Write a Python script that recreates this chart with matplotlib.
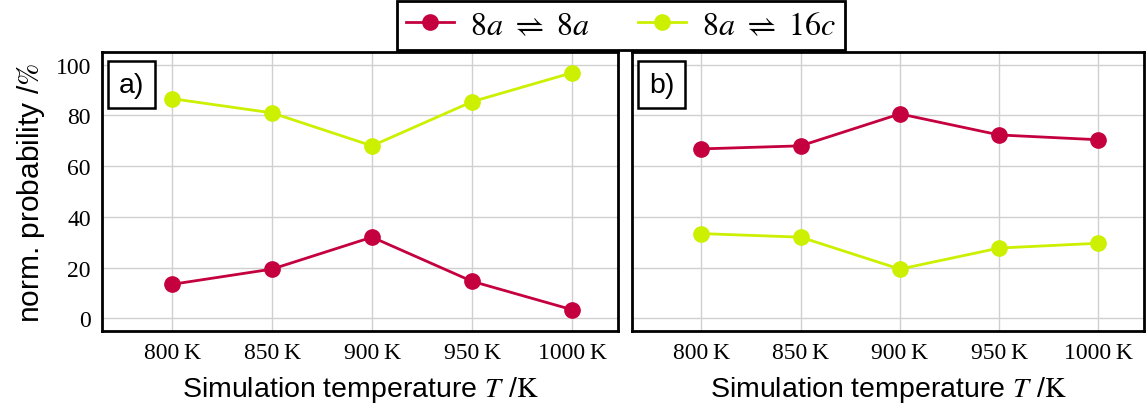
import matplotlib
matplotlib.use("Agg")
import matplotlib.pyplot as plt
from matplotlib.lines import Line2D

# --- DATEN ---
TEMPERATUREN = [800, 850, 900, 950, 1000]
TICK_LABELS = ["800\u2009K", "850\u2009K", "900\u2009K", "950\u2009K", "1000\u2009K"]

# Panel a)
A_8A_8A = [13.4, 19.4, 32.0, 14.6, 3.4]
A_8A_16C = [86.6, 81.0, 68.0, 85.4, 96.8]
# Panel b)
B_8A_8A = [66.8, 68.0, 80.6, 72.3, 70.4]
B_8A_16C = [33.4, 32.0, 19.4, 27.7, 29.6]

LEGEND_LABELS = [r"$8a\ \rightleftharpoons\ 8a$", r"$8a\ \rightleftharpoons\ 16c$"]
PANEL_LABELS = ["a)", "b)"]

# --- STYLE ---
COLOR_RED = "#c4003f"
COLOR_GREEN = "#ccf000"
FONT_SANS = "Liberation Sans"
FONT_SERIF = "Liberation Serif"
FS_TICK = 17
FS_LABEL = 20.5
LW = 2.0
MS = 11

plt.rcParams["mathtext.fontset"] = "stix"
plt.rcParams["font.family"] = FONT_SANS

fig = plt.figure(figsize=(11.46, 4.14), dpi=100)
ax_a = fig.add_axes([102 / 1146, 82 / 414, 516 / 1146, 279 / 414])
ax_b = fig.add_axes([632 / 1146, 82 / 414, 512 / 1146, 279 / 414])

panels = [(ax_a, A_8A_8A, A_8A_16C), (ax_b, B_8A_8A, B_8A_16C)]
for i, (ax, red, green) in enumerate(panels):
    ax.plot(TEMPERATUREN, red, color=COLOR_RED, marker="o", markersize=MS, lw=LW, zorder=3)
    ax.plot(TEMPERATUREN, green, color=COLOR_GREEN, marker="o", markersize=MS, lw=LW, zorder=3)
    ax.set_xlim(765, 1023)
    ax.set_ylim(-5, 105)
    ax.set_xticks(TEMPERATUREN)
    ax.set_xticklabels(TICK_LABELS, family=FONT_SERIF, fontsize=FS_TICK)
    ax.set_yticks([0, 20, 40, 60, 80, 100])
    if i == 0:
        ax.set_yticklabels(["0", "20", "40", "60", "80", "100"], family=FONT_SERIF, fontsize=FS_TICK)
        ax.set_ylabel("norm. probability /$\\%$", fontsize=FS_LABEL + 1, labelpad=6)
    else:
        ax.set_yticklabels([])
    ax.tick_params(length=0, pad=8)
    ax.grid(True, color="#d0d0d0", lw=1)
    ax.set_axisbelow(True)
    for s in ax.spines.values():
        s.set_linewidth(2)
        s.set_color("black")
    ax.set_xlabel("Simulation temperature $T$ /$\\mathrm{K}$", fontsize=FS_LABEL, labelpad=8)
    ax.text(0.033, 0.93, PANEL_LABELS[i], transform=ax.transAxes, fontsize=FS_LABEL,
            va="top", ha="left", zorder=5,
            bbox=dict(boxstyle="square,pad=0.38", fc="white", ec="black", lw=1.8))

handles = [
    Line2D([], [], color=COLOR_RED, marker="o", markersize=MS, lw=LW),
    Line2D([], [], color=COLOR_GREEN, marker="o", markersize=MS, lw=LW),
]
leg = fig.legend(handles, LEGEND_LABELS, loc="upper center",
                 bbox_to_anchor=(621 / 1146, 1 - 2 / 414), borderaxespad=0,
                 ncol=2, fontsize=23, frameon=True, fancybox=False, framealpha=1,
                 edgecolor="black", handlelength=1.5, columnspacing=1.5,
                 borderpad=0.3, handletextpad=0.5)
leg.get_frame().set_linewidth(2)

fig.savefig("out.png", dpi=100)
